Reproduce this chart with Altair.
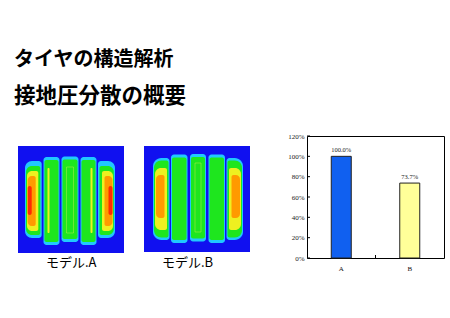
import altair as alt
import pandas as pd

# ---------------- text ----------------
title_lines = ["タイヤの構造解析", "接地圧分散の概要"]
model_names = ["モデル.A", "モデル.B"]

# ---------------- bar chart data ----------------
categories = ["A", "B"]
ratios = [1.000, 0.737]
ratio_labels = ["100.0%", "73.7%"]
y_ticks = [0, 0.2, 0.4, 0.6, 0.8, 1.0, 1.2]
bar_colors = ["#1060f0", "#ffff99"]

# ---------------- contact-pressure contour bands ----------------
# units: mm across tread (x) and along contact length (y, downward)
# level: 0 = base (low), 1 = cyan, 2 = green, 3 = yellow, 4 = orange, 5 = red
a_level = [0, 1, 2, 3, 4, 5, 1, 2, 3, 1, 2, 1, 2, 3, 1, 2, 3, 4, 5]
a_x0 = [0, 7, 8, 9, 9.7, 9.7, 25.5, 26.5, 29.5, 43.5, 44.5, 62.5, 63.5, 72.5, 80, 81.5, 84, 86.5, 90.5]
a_x1 = [106, 23.7, 22.3, 20.3, 17.7, 13.7, 41.5, 40.5, 31.5, 60.5, 59.5, 78.5, 77.5, 74.5, 97, 95.8, 95, 94.5, 94.5]
a_y0 = [0, 15, 20, 25, 30, 40, 11, 14, 22, 10.5, 13.5, 11, 14, 22, 15, 20, 25, 30, 40]
a_y1 = [107, 92, 89, 85, 80, 69, 99, 96, 87, 96, 93, 99, 96, 87, 92, 89, 85, 80, 69]
a_rl = [0, 7, 6, 5, 4, 2, 3, 2, 1, 3, 2, 3, 2, 1, 3, 2, 2, 2, 2]
a_rr = [0, 3, 2, 2, 2, 2, 3, 2, 1, 3, 2, 3, 2, 1, 7, 6, 5, 4, 2]
a_outline = [48.5, 55.5, 21, 87]

b_level = [0, 1, 2, 3, 4, 1, 2, 1, 2, 1, 2, 1, 2, 3, 4]
b_x0 = [0, 9, 10, 11, 12, 27, 28, 46, 47, 64.5, 65.5, 82.5, 83.5, 85, 87.5]
b_x1 = [106, 25.5, 24.5, 23, 20.5, 43.5, 42.5, 62, 61, 81, 80, 99, 98, 97, 96]
b_y0 = [0, 12, 14.5, 22, 29, 8.5, 11.5, 8, 11, 8.5, 11.5, 12, 14.5, 22, 29]
b_y1 = [106, 94, 91.5, 84, 72, 97, 94, 95.5, 92.5, 97, 94, 94, 91.5, 84, 72]
b_rl = [0, 12, 11, 9, 5, 3, 2, 3, 2, 3, 2, 3, 2, 2, 2]
b_rr = [0, 3, 2, 2, 2, 3, 2, 3, 2, 3, 2, 12, 11, 9, 5]
b_outline = [51, 57, 17, 86]

level_domain = [0, 1, 2, 3, 4, 5]
level_colors = ["#1010f0", "#20c8ff", "#1ee61e", "#eef020", "#ff9a00", "#ff2a00"]


def heatmap(name, level, x0, x1, y0, y1, rl, rr, outline, view_w, x_extent, dx):
    df = pd.DataFrame({"level": level, "x0": x0, "x1": x1, "y0": y0, "y1": y1,
                       "rl": rl, "rr": rr})
    odf = pd.DataFrame({"x0": [outline[0]], "x1": [outline[1]],
                        "y0": [outline[2]], "y1": [outline[3]]})
    xs = alt.Scale(domain=[0, x_extent], nice=False, zero=False)
    ys = alt.Scale(domain=[-10, 107], nice=False, zero=False, reverse=True)
    bands = alt.Chart(df).mark_rect(
        cornerRadiusTopLeft=alt.ExprRef("datum.rl"),
        cornerRadiusBottomLeft=alt.ExprRef("datum.rl"),
        cornerRadiusTopRight=alt.ExprRef("datum.rr"),
        cornerRadiusBottomRight=alt.ExprRef("datum.rr"),
    ).encode(
        x=alt.X("x0:Q", scale=xs, axis=None),
        x2="x1:Q",
        y=alt.Y("y0:Q", scale=ys, axis=None),
        y2="y1:Q",
        color=alt.Color("level:O", scale=alt.Scale(domain=level_domain, range=level_colors), legend=None),
        order=alt.Order("level:O"),
    )
    line = alt.Chart(odf).mark_rect(filled=False, stroke="#d8f050", strokeWidth=0.7,
                                    strokeOpacity=0.6).encode(
        x=alt.X("x0:Q", scale=xs, axis=None),
        x2="x1:Q",
        y=alt.Y("y0:Q", scale=ys, axis=None),
        y2="y1:Q",
    )
    return alt.layer(bands, line).properties(
        width=view_w, height=117,
        title=alt.TitleParams(name, orient="bottom", anchor="start", frame="group",
                              dx=dx, offset=4, fontSize=13, font="Noto Sans CJK JP",
                              fontWeight="normal", color="black"),
    )


hm_a = heatmap(model_names[0], a_level, a_x0, a_x1, a_y0, a_y1, a_rl, a_rr, a_outline, 106, 106, 28)
hm_b = heatmap(model_names[1], b_level, b_x0, b_x1, b_y0, b_y1, b_rl, b_rr, b_outline, 142.7, 142.7, 18)

bar_df = pd.DataFrame({"cat": categories, "ratio": ratios, "label": ratio_labels})
tick_df = pd.DataFrame({"t": y_ticks})
mid_df = pd.DataFrame({"cat": [categories[1]]})

xb = alt.Scale(domain=categories, paddingInner=0, paddingOuter=0)
yb = alt.Scale(domain=[0, 1.2], nice=False)
x_axis = alt.Axis(labelAngle=0, ticks=False, domain=False, labelFont="Liberation Serif",
                  labelFontSize=7, labelColor="#111", labelPadding=6, title=None)
y_axis = alt.Axis(values=y_ticks, format=".0%", ticks=False, domain=False, grid=False,
                  labelOverlap=False, labelFont="Liberation Serif", labelFontSize=7,
                  labelColor="#222", labelPadding=3, title=None)

bars = alt.Chart(bar_df).mark_bar(size=20, stroke="#222222", strokeWidth=1).encode(
    x=alt.X("cat:N", scale=xb, axis=x_axis),
    y=alt.Y("ratio:Q", scale=yb, axis=y_axis),
    color=alt.Color("cat:N", scale=alt.Scale(domain=categories, range=bar_colors), legend=None),
)
labels = alt.Chart(bar_df).mark_text(baseline="bottom", dy=-3, font="Liberation Serif",
                                     fontSize=6.5, color="#222").encode(
    x=alt.X("cat:N", scale=xb, axis=x_axis), y=alt.Y("ratio:Q", scale=yb, axis=y_axis),
    text="label:N")
yticks = alt.Chart(tick_df).mark_rule(color="#000", strokeWidth=1).encode(
    y=alt.Y("t:Q", scale=yb, axis=y_axis), x=alt.value(0), x2=alt.value(3))
midtick = alt.Chart(mid_df).mark_rule(color="#000", strokeWidth=1).encode(
    x=alt.X("cat:N", scale=xb, bandPosition=0, axis=x_axis), y=alt.value(122), y2=alt.value(119))

bar_chart = alt.layer(bars, labels, yticks, midtick).properties(
    width=137, height=122,
    view=alt.ViewBackground(stroke="#000000", strokeWidth=1),
)

chart = alt.hconcat(hm_a, hm_b, bar_chart, spacing=20, bounds="flush").resolve_scale(
    color="independent"
).properties(
    title=alt.TitleParams(title_lines[0], subtitle=title_lines[1], anchor="start", frame="group",
                          fontSize=20, font="Noto Sans CJK JP", fontWeight="bold", color="black",
                          subtitleFont="Noto Sans CJK JP", subtitleFontSize=21.5,
                          subtitleFontWeight="bold", subtitleColor="black",
                          subtitlePadding=16, dx=-4, offset=24),
    padding={"left": 14, "top": 50, "right": 0, "bottom": 0},
    background="white",
).configure_view(strokeWidth=0)

chart.save("out.html", embed_options={"renderer": "svg", "actions": False})
